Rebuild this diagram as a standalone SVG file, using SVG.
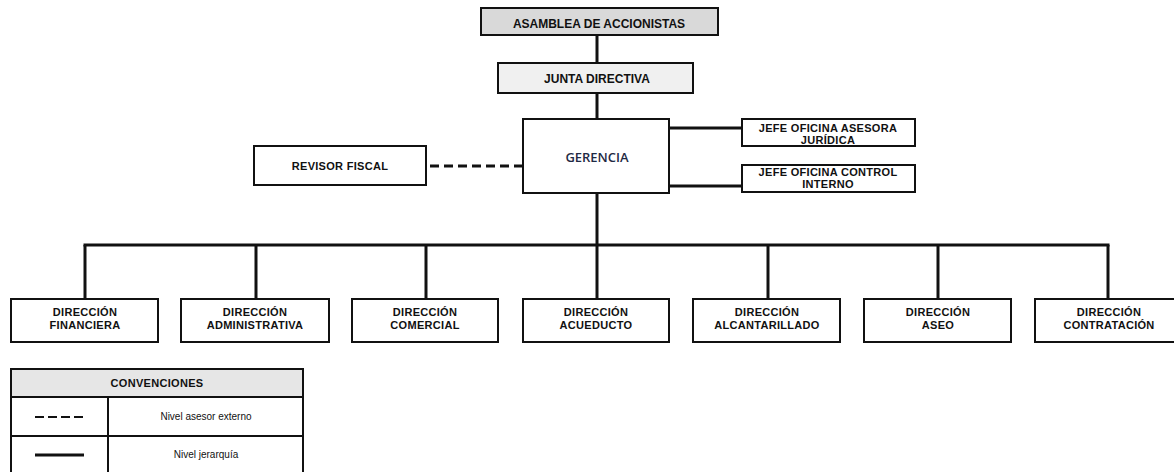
<svg xmlns="http://www.w3.org/2000/svg" width="1174" height="472" viewBox="0 0 1174 472">
<style>
.box{fill:#fff;stroke:#111;stroke-width:2}
.t{font-family:"Liberation Sans",Arial,sans-serif;font-weight:bold;font-size:11px;fill:#111;text-anchor:middle;letter-spacing:0.3px}
.tl{font-size:12px;letter-spacing:0}
.g{font-family:"Open Sans","Liberation Sans",sans-serif;font-weight:600;font-size:13px;fill:#1f2a44;text-anchor:middle}
.r{font-family:"Liberation Sans",Arial,sans-serif;font-size:10px;fill:#111;text-anchor:middle}
.ln{stroke:#111;stroke-width:3;fill:none}
.dash{stroke:#111;stroke-width:3;fill:none;stroke-dasharray:9 5}
</style>
<rect width="1174" height="472" fill="#fff"/>
<g id="connectors">
<line class="ln" x1="597" y1="35" x2="597" y2="63"/>
<line class="ln" x1="597" y1="93" x2="597" y2="119"/>
<line class="ln" x1="669" y1="128" x2="742" y2="128"/>
<line class="ln" x1="669" y1="186" x2="742" y2="186"/>
<line class="dash" x1="430" y1="166" x2="523" y2="166"/>
<line class="ln" x1="597" y1="193" x2="597" y2="299"/>
<line class="ln" x1="83.5" y1="245" x2="1109.5" y2="245"/>
<line class="ln" x1="85" y1="245" x2="85" y2="299"/>
<line class="ln" x1="256" y1="245" x2="256" y2="299"/>
<line class="ln" x1="426" y1="245" x2="426" y2="299"/>
<line class="ln" x1="768" y1="245" x2="768" y2="299"/>
<line class="ln" x1="938" y1="245" x2="938" y2="299"/>
<line class="ln" x1="1108" y1="245" x2="1108" y2="299"/>
</g>
<g id="asamblea">
<rect class="box" x="481" y="8" width="237" height="27" style="fill:#d9d9d9"/>
<text class="t tl" x="599" y="28">ASAMBLEA DE ACCIONISTAS</text>
</g>
<g id="junta">
<rect class="box" x="498" y="63" width="195" height="30" style="fill:#f0f0f0"/>
<text class="t tl" x="597" y="83">JUNTA DIRECTIVA</text>
</g>
<g id="gerencia">
<rect class="box" x="523" y="119" width="146" height="74"/>
<text class="g" x="597" y="162">GERENCIA</text>
</g>
<g id="revisor">
<rect class="box" x="254" y="146" width="172" height="39"/>
<text class="t" x="340" y="170">REVISOR FISCAL</text>
</g>
<g id="juridica">
<rect class="box" x="742" y="119" width="173" height="27"/>
<text class="t" x="828" y="131.5">JEFE OFICINA ASESORA</text>
<text class="t" x="828" y="143.5">JURÍDICA</text>
</g>
<g id="control">
<rect class="box" x="742" y="165" width="173" height="27"/>
<text class="t" x="828" y="176">JEFE OFICINA CONTROL</text>
<text class="t" x="828" y="188">INTERNO</text>
</g>
<g id="financiera">
<rect class="box" x="11" y="299" width="147" height="43"/>
<text class="t" x="85" y="316">DIRECCIÓN</text><text class="t" x="85" y="329">FINANCIERA</text>
</g>
<g id="administrativa">
<rect class="box" x="181" y="299" width="148" height="43"/>
<text class="t" x="255" y="316">DIRECCIÓN</text><text class="t" x="255" y="329">ADMINISTRATIVA</text>
</g>
<g id="comercial">
<rect class="box" x="352" y="299" width="146" height="43"/>
<text class="t" x="425" y="316">DIRECCIÓN</text><text class="t" x="425" y="329">COMERCIAL</text>
</g>
<g id="acueducto">
<rect class="box" x="523" y="299" width="146" height="43"/>
<text class="t" x="596" y="316">DIRECCIÓN</text><text class="t" x="596" y="329">ACUEDUCTO</text>
</g>
<g id="alcantarillado">
<rect class="box" x="693" y="299" width="147" height="43"/>
<text class="t" x="767" y="316">DIRECCIÓN</text><text class="t" x="767" y="329">ALCANTARILLADO</text>
</g>
<g id="aseo">
<rect class="box" x="864" y="299" width="147" height="43"/>
<text class="t" x="938" y="316">DIRECCIÓN</text><text class="t" x="938" y="329">ASEO</text>
</g>
<g id="contratacion">
<rect class="box" x="1035" y="299" width="147" height="43"/>
<text class="t" x="1109" y="316">DIRECCIÓN</text><text class="t" x="1109" y="329">CONTRATACIÓN</text>
</g>
<g id="convenciones">
<rect class="box" x="11" y="369" width="292" height="110"/>
<rect x="11" y="369" width="292" height="28" style="fill:#e6e6e6;stroke:#111;stroke-width:2"/>
<line x1="11" y1="436" x2="303" y2="436" stroke="#111" stroke-width="2"/>
<line x1="108" y1="397" x2="108" y2="479" stroke="#111" stroke-width="2"/>
<text class="t" x="157" y="387">CONVENCIONES</text>
<line x1="35" y1="417" x2="84" y2="417" stroke="#111" stroke-width="2" stroke-dasharray="9 4"/>
<line x1="35" y1="455" x2="84" y2="455" stroke="#111" stroke-width="3"/>
<text class="r" x="206" y="420">Nivel asesor externo</text>
<text class="r" x="206" y="458">Nivel jerarquía</text>
</g>
</svg>
